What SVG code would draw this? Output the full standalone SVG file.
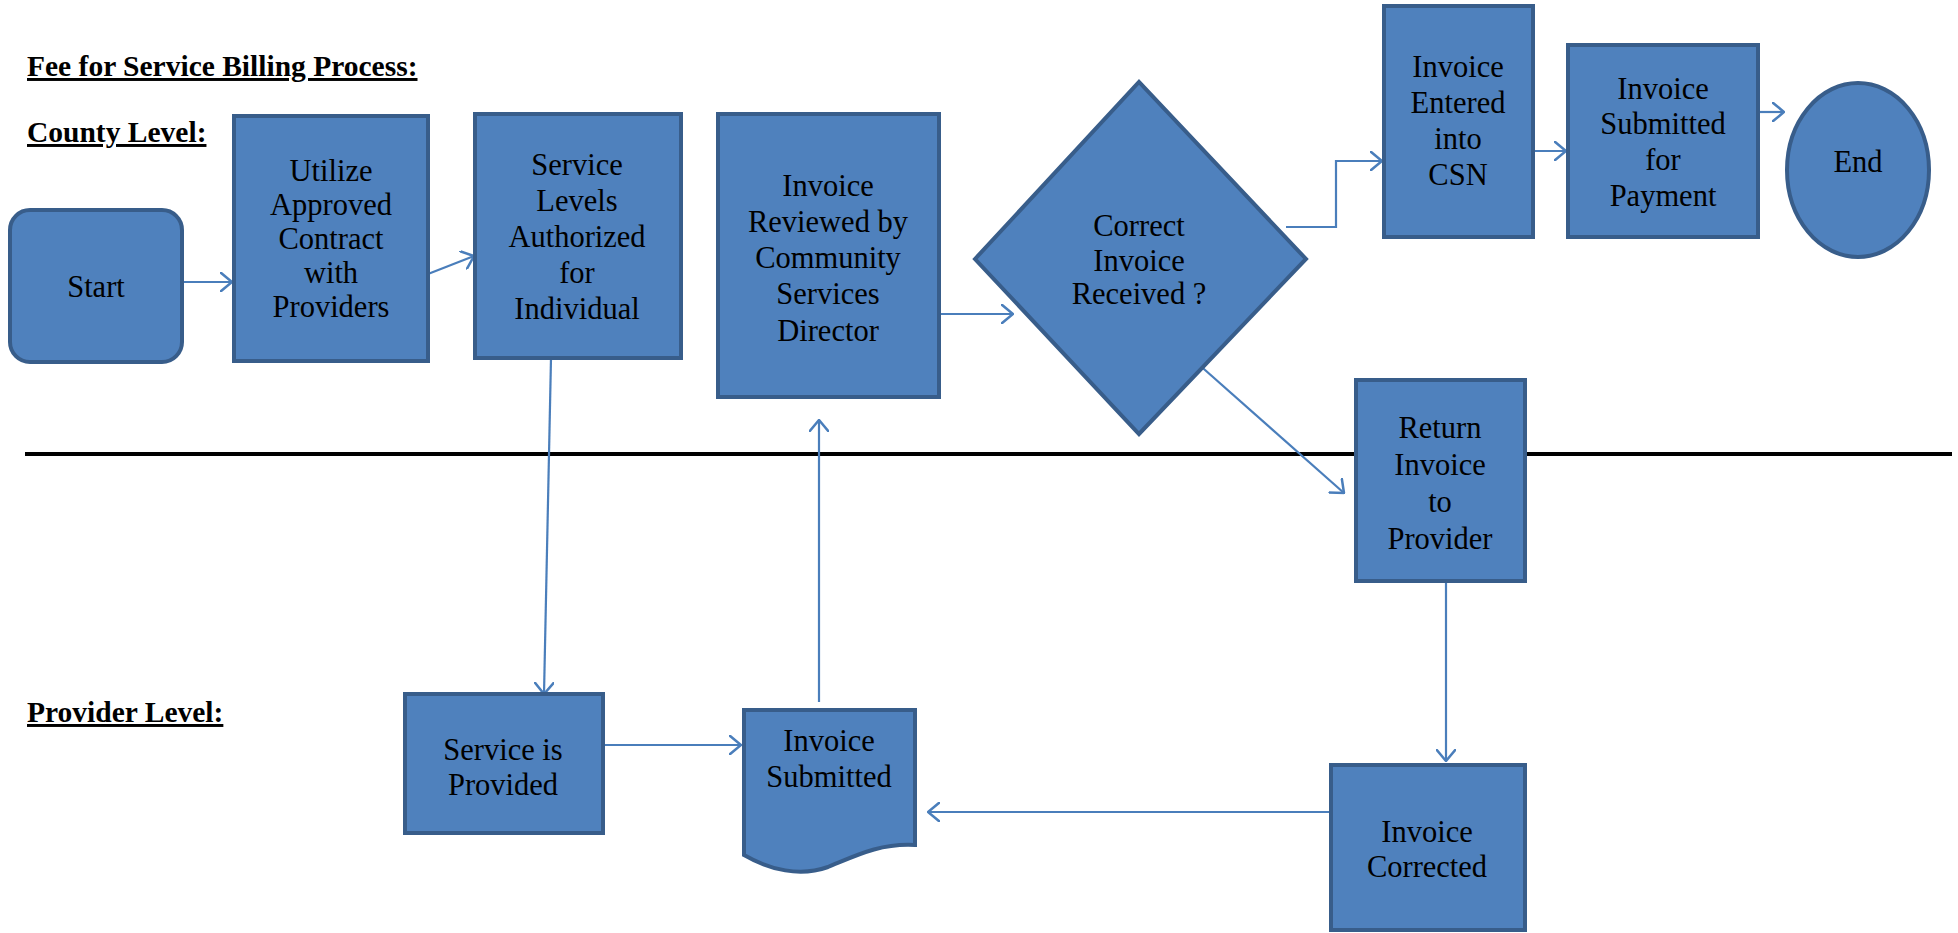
<svg xmlns="http://www.w3.org/2000/svg" width="1958" height="933" viewBox="0 0 1958 933">
<defs>
<style>
.n{fill:#4F81BD;stroke:#385D8A;stroke-width:4}
.t{font-family:'Liberation Serif','Times New Roman',serif;font-size:30.5px;fill:#000;text-anchor:middle}
.h{font-family:'Liberation Serif','Times New Roman',serif;font-size:29.5px;font-weight:bold;fill:#000;text-decoration:underline}
.c{fill:none;stroke:#4A7EBB;stroke-width:2.2}
</style>
<marker id="arr" viewBox="0 0 13 20" refX="12" refY="10" markerWidth="13" markerHeight="20" markerUnits="userSpaceOnUse" orient="auto">
<path d="M0,0 L12,10 L0,20" fill="none" stroke="#4A7EBB" stroke-width="2.5"/>
</marker>
</defs>
<rect width="1958" height="933" fill="#fff"/>
<g id="labels">
<text class="h" x="27" y="76">Fee for Service Billing Process:</text>
<text class="h" x="27" y="142">County Level:</text>
<text class="h" x="27" y="722">Provider Level:</text>
</g>
<line id="divider" x1="25" y1="454" x2="1952" y2="454" stroke="#000" stroke-width="4"/>
<g id="connectors">
<path class="c" marker-end="url(#arr)" d="M182,282 H232"/>
<path class="c" marker-end="url(#arr)" d="M428,274 L474,256"/>
<path class="c" marker-end="url(#arr)" d="M551,358 L544,694"/>
<path class="c" marker-end="url(#arr)" d="M603,745 H741"/>
<path class="c" marker-end="url(#arr)" d="M819,702 V420"/>
<path class="c" marker-end="url(#arr)" d="M932,314 H1013"/>
<path class="c" marker-end="url(#arr)" d="M1286,227 H1336 V161 H1382"/>
<path class="c" marker-end="url(#arr)" d="M1533,151 H1566"/>
<path class="c" marker-end="url(#arr)" d="M1758,112 H1784"/>
<path class="c" marker-end="url(#arr)" d="M1196,362 L1344,493"/>
<path class="c" marker-end="url(#arr)" d="M1446,581 V761"/>
<path class="c" marker-end="url(#arr)" d="M1331,812 H928"/>
</g>
<g id="start">
<rect class="n" x="10" y="210" width="172" height="152" rx="20"/>
<text class="t" x="96" y="297">Start</text>
</g>
<g id="utilize">
<rect class="n" x="234" y="116" width="194" height="245"/>
<text class="t" x="331" y="181">Utilize</text>
<text class="t" x="331" y="215">Approved</text>
<text class="t" x="331" y="249">Contract</text>
<text class="t" x="331" y="283">with</text>
<text class="t" x="331" y="317">Providers</text>
</g>
<g id="authorized">
<rect class="n" x="475" y="114" width="206" height="244"/>
<text class="t" x="577" y="175">Service</text>
<text class="t" x="577" y="211">Levels</text>
<text class="t" x="577" y="247">Authorized</text>
<text class="t" x="577" y="283">for</text>
<text class="t" x="577" y="319">Individual</text>
</g>
<g id="provided">
<rect class="n" x="405" y="694" width="198" height="139"/>
<text class="t" x="503" y="760">Service is</text>
<text class="t" x="503" y="795">Provided</text>
</g>
<g id="submitted">
<path class="n" d="M744,710 H915 V845 C880,843 855,856 828,867 C800,877 770,870 744,855 Z"/>
<text class="t" x="829" y="751">Invoice</text>
<text class="t" x="829" y="787">Submitted</text>
</g>
<g id="reviewed">
<rect class="n" x="718" y="114" width="221" height="283"/>
<text class="t" x="828" y="196">Invoice</text>
<text class="t" x="828" y="232">Reviewed by</text>
<text class="t" x="828" y="268">Community</text>
<text class="t" x="828" y="304">Services</text>
<text class="t" x="828" y="341">Director</text>
</g>
<g id="decision">
<polygon class="n" points="975,259 1139,82 1306,259 1139,434"/>
<text class="t" x="1139" y="236">Correct</text>
<text class="t" x="1139" y="271">Invoice</text>
<text class="t" x="1139" y="304">Received ?</text>
</g>
<g id="entered">
<rect class="n" x="1384" y="6" width="149" height="231"/>
<text class="t" x="1458" y="77">Invoice</text>
<text class="t" x="1458" y="113">Entered</text>
<text class="t" x="1458" y="149">into</text>
<text class="t" x="1458" y="185">CSN</text>
</g>
<g id="payment">
<rect class="n" x="1568" y="45" width="190" height="192"/>
<text class="t" x="1663" y="99">Invoice</text>
<text class="t" x="1663" y="134">Submitted</text>
<text class="t" x="1663" y="170">for</text>
<text class="t" x="1663" y="206">Payment</text>
</g>
<g id="end">
<ellipse class="n" cx="1858" cy="170" rx="71" ry="87"/>
<text class="t" x="1858" y="172">End</text>
</g>
<g id="return">
<rect class="n" x="1356" y="380" width="169" height="201"/>
<text class="t" x="1440" y="438">Return</text>
<text class="t" x="1440" y="475">Invoice</text>
<text class="t" x="1440" y="512">to</text>
<text class="t" x="1440" y="549">Provider</text>
</g>
<g id="corrected">
<rect class="n" x="1331" y="765" width="194" height="165"/>
<text class="t" x="1427" y="842">Invoice</text>
<text class="t" x="1427" y="877">Corrected</text>
</g>
</svg>
